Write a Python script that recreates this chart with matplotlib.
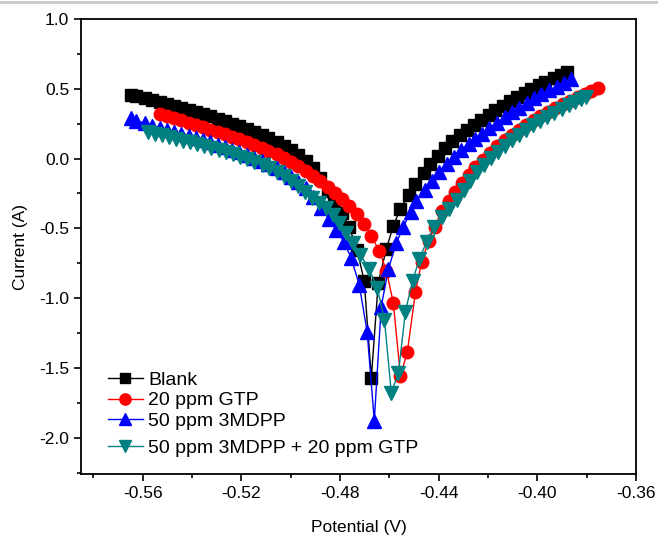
import matplotlib
matplotlib.use("Agg")
import matplotlib.pyplot as plt
from matplotlib.ticker import MultipleLocator, FormatStrFormatter
from matplotlib.lines import Line2D

plt.rcParams['font.family'] = ['Liberation Sans', 'DejaVu Sans']

# Blank
blank_x = [-0.5649, -0.5629, -0.5592, -0.5563, -0.5531, -0.5502, -0.5473, -0.5445, -0.5412, -0.5384,
           -0.5355, -0.5327, -0.5294, -0.5265, -0.5237, -0.5208, -0.5176, -0.5147, -0.5118, -0.5090,
           -0.5057, -0.5029, -0.5000, -0.4971, -0.4939, -0.4910, -0.4882, -0.4849, -0.4824, -0.4792,
           -0.4763, -0.4731, -0.4702, -0.4673,
           -0.4645, -0.4612, -0.4584, -0.4555, -0.4522, -0.4498, -0.4461, -0.4437, -0.4404, -0.4376,
           -0.4347, -0.4314, -0.4286, -0.4257, -0.4229, -0.4196, -0.4171, -0.4139, -0.4110, -0.4082,
           -0.4049, -0.4024, -0.3992, -0.3967, -0.3931, -0.3906, -0.3878]
blank_y = [0.456, 0.449, 0.435, 0.420, 0.406, 0.392, 0.377, 0.363, 0.349, 0.334,
           0.320, 0.306, 0.284, 0.270, 0.248, 0.234, 0.213, 0.191, 0.170, 0.148,
           0.120, 0.091, 0.062, 0.026, -0.016, -0.067, -0.138, -0.231, -0.303, -0.389,
           -0.489, -0.654, -0.875, -1.570,
           -0.890, -0.646, -0.482, -0.360, -0.260, -0.181, -0.102, -0.038, 0.019, 0.077,
           0.127, 0.170, 0.205, 0.241, 0.277, 0.313, 0.349, 0.377, 0.413, 0.442,
           0.470, 0.499, 0.528, 0.549, 0.578, 0.599, 0.621]

# 20 ppm GTP
gtp_x = [-0.5531, -0.5502, -0.5473, -0.5445, -0.5412, -0.5384, -0.5355, -0.5327, -0.5294, -0.5265,
         -0.5237, -0.5208, -0.5176, -0.5147, -0.5118, -0.5090, -0.5057, -0.5029, -0.5000, -0.4971,
         -0.4939, -0.4910, -0.4882, -0.4849, -0.4820, -0.4792, -0.4763, -0.4731, -0.4702, -0.4673,
         -0.4641, -0.4612, -0.4584, -0.4555,
         -0.4527, -0.4494, -0.4469, -0.4441, -0.4416, -0.4388, -0.4359, -0.4335, -0.4306, -0.4278,
         -0.4253, -0.4220, -0.4192, -0.4163, -0.4131, -0.4102, -0.4073, -0.4045, -0.4012, -0.3988,
         -0.3955, -0.3927, -0.3898, -0.3869, -0.3837, -0.3808, -0.3784, -0.3755]
gtp_y = [0.320, 0.306, 0.291, 0.277, 0.256, 0.241, 0.227, 0.205, 0.191, 0.177,
         0.155, 0.141, 0.120, 0.098, 0.077, 0.055, 0.034, 0.005, -0.024, -0.052,
         -0.088, -0.124, -0.160, -0.203, -0.246, -0.288, -0.339, -0.396, -0.467, -0.553,
         -0.661, -0.804, -1.033, -1.556,
         -1.384, -0.954, -0.739, -0.589, -0.489, -0.374, -0.303, -0.238, -0.174, -0.117,
         -0.059, -0.009, 0.041, 0.091, 0.134, 0.170, 0.205, 0.241, 0.277, 0.306,
         0.334, 0.363, 0.392, 0.413, 0.442, 0.463, 0.485, 0.506]

# 50 ppm 3MDPP
mdpp_x = [-0.5649, -0.5629, -0.5592, -0.5563, -0.5531, -0.5502, -0.5473, -0.5445, -0.5412, -0.5384,
          -0.5355, -0.5327, -0.5294, -0.5265, -0.5237, -0.5208, -0.5176, -0.5147, -0.5118, -0.5090,
          -0.5057, -0.5029, -0.5000, -0.4971, -0.4939, -0.4910, -0.4878, -0.4845, -0.4816, -0.4784,
          -0.4755, -0.4722, -0.4690, -0.4661,
          -0.4633, -0.4604, -0.4571, -0.4543, -0.4514, -0.4490, -0.4457, -0.4429, -0.4400, -0.4367,
          -0.4339, -0.4310, -0.4278, -0.4253, -0.4224, -0.4196, -0.4163, -0.4131, -0.4102, -0.4073,
          -0.4041, -0.4012, -0.3984, -0.3951, -0.3922, -0.3890, -0.3865]
mdpp_y = [0.291, 0.270, 0.256, 0.234, 0.220, 0.205, 0.191, 0.177, 0.162, 0.148,
          0.134, 0.120, 0.098, 0.084, 0.062, 0.048, 0.026, 0.005, -0.016, -0.038,
          -0.067, -0.095, -0.131, -0.167, -0.210, -0.274, -0.353, -0.432, -0.510, -0.596,
          -0.711, -0.904, -1.241, -1.878,
          -1.062, -0.790, -0.603, -0.489, -0.382, -0.303, -0.224, -0.160, -0.095, -0.038,
          0.012, 0.062, 0.105, 0.141, 0.177, 0.220, 0.256, 0.298, 0.334, 0.363,
          0.399, 0.435, 0.463, 0.492, 0.513, 0.542, 0.571]

# 50 ppm 3MDPP + 20 ppm GTP
mix_x = [-0.5580, -0.5551, -0.5522, -0.5494, -0.5465, -0.5437, -0.5408, -0.5380, -0.5351, -0.5322,
         -0.5290, -0.5261, -0.5233, -0.5204, -0.5176, -0.5147, -0.5114, -0.5086, -0.5057, -0.5029,
         -0.5000, -0.4971, -0.4943, -0.4914, -0.4886, -0.4857, -0.4829, -0.4804, -0.4776, -0.4747,
         -0.4718, -0.4682, -0.4649, -0.4620, -0.4592,
         -0.4563, -0.4535, -0.4506, -0.4478, -0.4449, -0.4420, -0.4388, -0.4359, -0.4327, -0.4298,
         -0.4273, -0.4245, -0.4216, -0.4188, -0.4159, -0.4131, -0.4102, -0.4073, -0.4045, -0.4016,
         -0.3988, -0.3959, -0.3931, -0.3902, -0.3873, -0.3849, -0.3824, -0.3804]
mix_y = [0.191, 0.177, 0.170, 0.155, 0.141, 0.127, 0.120, 0.105, 0.091, 0.077,
         0.062, 0.048, 0.034, 0.012, -0.002, -0.024, -0.045, -0.067, -0.095, -0.124,
         -0.160, -0.195, -0.238, -0.281, -0.317, -0.353, -0.403, -0.460, -0.532, -0.603,
         -0.689, -0.790, -0.926, -1.155, -1.677,
         -1.534, -1.097, -0.875, -0.718, -0.596, -0.489, -0.417, -0.360, -0.296, -0.224,
         -0.160, -0.095, -0.045, 0.005, 0.048, 0.091, 0.134, 0.170, 0.205, 0.241,
         0.270, 0.298, 0.327, 0.356, 0.384, 0.406, 0.427, 0.442]

labels = ['Blank', '20 ppm GTP', '50 ppm 3MDPP', '50 ppm 3MDPP + 20 ppm GTP']

fig = plt.figure(figsize=(6.58, 5.35), dpi=100)
ax = fig.add_axes([0.1231, 0.114, 0.8435, 0.8505])

h1, = ax.plot(blank_x, blank_y, '-s', color='black', lw=1, ms=8, label=labels[0])
h2, = ax.plot(gtp_x, gtp_y, '-o', color='#ff0000', lw=1, ms=9, label=labels[1])
h3, = ax.plot(mdpp_x, mdpp_y, '-^', color='#0000ff', lw=1, ms=9.5, label=labels[2])
h4, = ax.plot(mix_x, mix_y, '-v', color='#008080', lw=1, ms=9.5, label=labels[3])

ax.set_xlim(-0.585, -0.36)
ax.set_ylim(-2.26, 1.0)
ax.xaxis.set_major_locator(MultipleLocator(0.04))
ax.xaxis.set_minor_locator(MultipleLocator(0.02))
ax.yaxis.set_major_locator(MultipleLocator(0.5))
ax.yaxis.set_minor_locator(MultipleLocator(0.25))
ax.xaxis.set_major_formatter(FormatStrFormatter('%.2f'))
ax.yaxis.set_major_formatter(FormatStrFormatter('%.1f'))
ax.tick_params(which='major', direction='out', length=5, width=1.2, labelsize=12.5)
ax.tick_params(which='minor', direction='out', length=3, width=1.2)
for s in ax.spines.values():
    s.set_linewidth(1.3)

ax.set_xlabel('Potential (V)', fontsize=12.5, labelpad=14)
ax.set_ylabel('Current (A)', fontsize=12.5, labelpad=8)

leg_kw = dict(frameon=False, fontsize=14, handlelength=1.8, handletextpad=0.3,
              labelspacing=0.15, borderaxespad=0, borderpad=0, markerscale=0.9)
leg1 = ax.legend([h1, h2, h3], labels[:3], loc='upper left',
                 bbox_to_anchor=(0.048, 0.226), **leg_kw)
ax.add_artist(leg1)
ax.legend([h4], labels[3:], loc='upper left', bbox_to_anchor=(0.048, 0.076), **leg_kw)

fig.add_artist(Line2D([0, 1], [0.997, 0.997], color='#c8c8c8', lw=2, transform=fig.transFigure))

fig.savefig('out.png', dpi=100)
